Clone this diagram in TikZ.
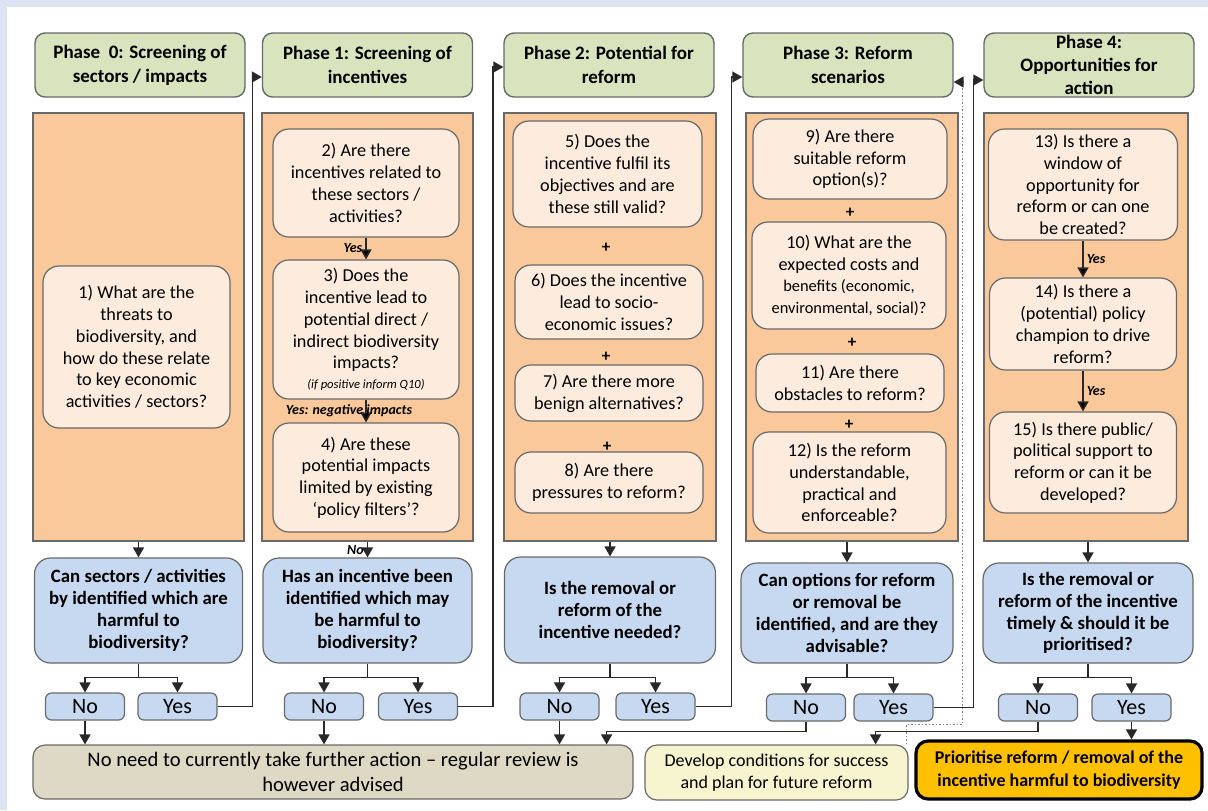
\documentclass[tikz,border=0pt]{standalone}
\usepackage{fontspec}
\setmainfont{Carlito}
\usetikzlibrary{arrows.meta}

\definecolor{pagebg}{RGB}{221,227,243}
\definecolor{boxline}{RGB}{105,105,105}
\definecolor{flowline}{RGB}{40,40,40}
\definecolor{phasegreen}{RGB}{215,228,189}
\definecolor{panelorange}{RGB}{249,201,156}
\definecolor{qcream}{RGB}{253,236,222}
\definecolor{qblue}{RGB}{198,217,240}
\definecolor{stopgrey}{RGB}{221,217,196}
\definecolor{devyellow}{RGB}{246,245,208}
\definecolor{prioyellow}{RGB}{255,192,0}

\begin{document}
\begin{tikzpicture}[x=0.5pt,y=-0.5pt,
    >={Triangle[length=5pt,width=5.5pt]},
    phase node/.style={draw=boxline,fill=phasegreen,rounded corners=5pt,line width=0.7pt,
      minimum width=105pt,minimum height=32pt,inner sep=1pt,align=center,
      font=\bfseries\fontsize{9.5}{12}\selectfont},
    panel node/.style={draw=boxline,fill=panelorange,line width=0.6pt,inner sep=0pt},
    question node/.style={draw=boxline,fill=qcream,rounded corners=8pt,line width=0.6pt,
      inner sep=1pt,align=center,font=\fontsize{9.1}{10.9}\selectfont},
    decision node/.style={draw=boxline,fill=qblue,rounded corners=8pt,line width=0.6pt,
      inner sep=1pt,align=center,font=\bfseries\fontsize{9.4}{10.9}\selectfont},
    answer node/.style={draw=boxline,fill=qblue,rounded corners=3pt,line width=0.6pt,
      minimum width=39.5pt,minimum height=13.5pt,inner sep=0pt,font=\fontsize{11}{13}\selectfont},
    end node/.style={draw=boxline,rounded corners=6pt,line width=0.6pt,inner sep=1pt,align=center},
    flow/.style={->,line width=0.75pt,draw=flowline},
    note/.style={font=\bfseries\itshape\fontsize{7}{8}\selectfont,inner sep=1.5pt},
    plus/.style={font=\bfseries\fontsize{8.5}{9}\selectfont,inner sep=0pt}
  ]
  \fill[pagebg] (0,0) rectangle (1208,810);
  \fill[white] (7,7) rectangle (1208,810);
  \useasboundingbox (0,0) rectangle (1208,810);

  % phase headers
  \node[phase node] (p0) at (140,65) {Phase~ 0: Screening of\\sectors / impacts};
  \node[phase node] (p1) at (367.5,65) {Phase 1: Screening of\\incentives};
  \node[phase node] (p2) at (609,65) {Phase 2: Potential for\\reform};
  \node[phase node] (p3) at (848,65) {Phase 3: Reform\\scenarios};
  \node[phase node,inner ysep=0pt,font=\bfseries\fontsize{9.5}{11.6}\selectfont] (p4) at (1089,65)
    {Phase 4:\\Opportunities for\\action};

  % columns
  \node[panel node,minimum width=105.5pt,minimum height=214pt] (c0) at (138.5,327) {};
  \node[panel node,minimum width=105.5pt,minimum height=214pt] (c1) at (367.5,327) {};
  \node[panel node,minimum width=106pt,minimum height=214pt] (c2) at (610,327) {};
  \node[panel node,minimum width=106pt,minimum height=214pt] (c3) at (852,327) {};
  \node[panel node,minimum width=102pt,minimum height=214pt] (c4) at (1086,327) {};

  % questions
  \node[question node,minimum width=93.5pt,minimum height=81pt] (q1) at (136.5,347)
    {1) What are the\\threats to\\biodiversity, and\\how do these relate\\to key economic\\activities / sectors?};
  \node[question node,minimum width=93pt,minimum height=54pt] (q2) at (366,183)
    {2) Are there\\incentives related to\\these sectors /\\activities?};
  \node[question node,minimum width=93pt,minimum height=69.5pt] (q3) at (366,329.5)
    {3) Does the\\incentive lead to\\potential direct /\\indirect biodiversity\\impacts?\\[-1pt]{\itshape\fontsize{6.3}{8}\selectfont (if positive inform Q10)}};
  \node[question node,minimum width=93pt,minimum height=54.5pt] (q4) at (366,477.5)
    {4) Are these\\potential impacts\\limited by existing\\‘policy filters’?};
  \node[question node,minimum width=94.5pt,minimum height=53pt] (q5) at (607.5,174)
    {5) Does the\\incentive fulfil its\\objectives and are\\these still valid?};
  \node[question node,minimum width=94pt,minimum height=37pt] (q6) at (609,302)
    {6) Does the incentive\\lead to socio-\\economic issues?};
  \node[question node,minimum width=94pt,minimum height=28pt] (q7) at (609,393)
    {7) Are there more\\benign alternatives?};
  \node[question node,minimum width=94pt,minimum height=30.5pt] (q8) at (609,482.5)
    {8) Are there\\pressures to reform?};
  \node[question node,minimum width=97pt,minimum height=40pt] (q9) at (850,159)
    {9) Are there\\suitable reform\\option(s)?};
  \node[question node,minimum width=97pt,minimum height=53.5pt] (q10) at (849,275.5)
    {10) What are the\\expected costs and\\{\fontsize{8.2}{10.9}\selectfont benefits (economic,}\\{\fontsize{8.2}{10.9}\selectfont environmental, social)?}};
  \node[question node,minimum width=94pt,minimum height=29pt] (q11) at (850,383)
    {11) Are there\\obstacles to reform?};
  \node[question node,minimum width=96.5pt,minimum height=50.5pt] (q12) at (849.5,482.5)
    {12) Is the reform\\understandable,\\practical and\\enforceable?};
  \node[question node,minimum width=94.5pt,minimum height=55.5pt] (q13) at (1083,184.5)
    {13) Is there a\\window of\\opportunity for\\reform or can one\\be created?};
  \node[question node,minimum width=93.5pt,minimum height=46pt] (q14) at (1083,324)
    {14) Is there a\\(potential) policy\\champion to drive\\reform?};
  \node[question node,minimum width=93.5pt,minimum height=50.5pt] (q15) at (1083,462.5)
    {15) Is there public/\\political support to\\reform or can it be\\developed?};

  % plus signs
  \node[plus] (s56) at (606,248) {+};
  \node[plus] (s67) at (606,357) {+};
  \node[plus] (s78) at (607,447) {+};
  \node[plus] (s910) at (850,213) {+};
  \node[plus] (s1011) at (852,343) {+};
  \node[plus] (s1112) at (849,425) {+};

  % decisions
  \node[decision node,minimum width=104pt,minimum height=52.5pt] (d0) at (138.5,610.5)
    {Can sectors / activities\\by identified which are\\harmful to\\biodiversity?};
  \node[decision node,minimum width=104.5pt,minimum height=52.5pt] (d1) at (367.5,610.5)
    {Has an incentive been\\identified which may\\be harmful to\\biodiversity?};
  \node[decision node,minimum width=105.5pt,minimum height=53pt] (d2) at (610,610)
    {Is the removal or\\reform of the\\incentive needed?};
  \node[decision node,minimum width=106pt,minimum height=50pt] (d3) at (847,613)
    {Can options for reform\\or removal be\\identified, and are they\\advisable?};
  \node[decision node,minimum width=105pt,minimum height=50pt] (d4) at (1088,613)
    {Is the removal or\\reform of the incentive\\timely \& should it be\\prioritised?};

  % answers
  \node[answer node] (n0) at (85,706.5) {No};
  \node[answer node] (y0) at (177.5,706.5) {Yes};
  \node[answer node] (n1) at (324,706.5) {No};
  \node[answer node] (y1) at (418,706.5) {Yes};
  \node[answer node] (n2) at (559.5,706.5) {No};
  \node[answer node] (y2) at (655.5,706.5) {Yes};
  \node[answer node] (n3) at (806,707.5) {No};
  \node[answer node] (y3) at (893.5,707.5) {Yes};
  \node[answer node] (n4) at (1038,707.5) {No};
  \node[answer node] (y4) at (1131.5,707.5) {Yes};

  % outcomes
  \node[end node,fill=stopgrey,minimum width=300pt,minimum height=27pt,
    font=\fontsize{10.3}{12.8}\selectfont] (grey) at (333,772)
    {No need to currently take further action – regular review is\\however advised};
  \node[end node,fill=devyellow,minimum width=131.5pt,minimum height=27.5pt,
    font=\fontsize{9}{11}\selectfont] (dev) at (776.5,772.5)
    {Develop conditions for success\\and plan for future reform};
  \node[end node,draw=black,line width=1.6pt,fill=prioyellow,minimum width=143pt,minimum height=29pt,
    font=\bfseries\fontsize{9}{11.3}\selectfont] (prio) at (1059,770)
    {Prioritise reform / removal of the\\incentive harmful to biodiversity};

  % within the columns
  \path[flow]
    (q2) edge node[note,left] {Yes} (q3)
    (q3) edge node[note,xshift=-8.5pt] {Yes: negative impacts} (q4)
    (q13) edge node[note,right] {Yes} (q14)
    (q14) edge node[note,right] {Yes} (q15);

  % columns to decisions
  \draw[flow] (c0.south -| d0.north) -- (d0.north);
  \draw[flow] (c1.south -| d1.north) -- node[note,left] {No} (d1.north);
  \draw[flow] (c2.south -| d2.north) -- (d2.north);
  \draw[flow] (c3.south -| d3.north) -- (d3.north);
  \draw[flow] (c4.south -| d4.north) -- (d4.north);

  % decisions to answers
  \draw[flow] (d0.south) -- ++(0,14) -| (n0.north);
  \draw[flow] (d0.south) -- ++(0,14) -| (y0.north);
  \draw[flow] (d1.south) -- ++(0,14) -| (n1.north);
  \draw[flow] (d1.south) -- ++(0,14) -| (y1.north);
  \draw[flow] (d2.south) -- ++(0,14) -| (n2.north);
  \draw[flow] (d2.south) -- ++(0,14) -| (y2.north);
  \draw[flow] (d3.south) -- ++(0,14) -| (n3.north);
  \draw[flow] (d3.south) -- ++(0,14) -| (y3.north);
  \draw[flow] (d4.south) -- ++(0,14) -| (n4.north);
  \draw[flow] (d4.south) -- ++(0,14) -| (y4.north);

  % answers to outcomes
  \draw[flow] (n0.south) -- (n0.south |- grey.north);
  \draw[flow] (n1.south) -- (n1.south |- grey.north);
  \draw[flow] (n2.south) -- (n2.south |- grey.north);
  \draw[flow] (n3.south) -- ++(0,10) -| ([xshift=-13.5pt]grey.north east);
  \draw[flow] (n4.south) -- ++(0,10) -| ([xshift=-16.5pt]dev.north east);
  \draw[flow] (y4.south) -- (y4.south |- prio.north);

  % yes leads to the next phase
  \draw[flow] (y0.east) -- ++(35,0) |- ([yshift=-6pt]p1.west);
  \draw[flow] (y1.east) -- ++(35,0) |- ([yshift=-1pt]p2.west);
  \draw[flow] (y2.east) -- ++(36,0) |- ([yshift=-6pt]p3.west);
  \draw[flow] (y3.east) -- ++(40,0) |- ([yshift=-7.5pt]p4.west);
  \draw[flow,densely dotted,draw=gray,-{Triangle[length=5pt,width=5.5pt,color=flowline]}]
    ([xshift=-1pt]dev.north east) -- ++(0,-20) -- ++(56,0) |- ([yshift=-8.5pt]p3.east);
\end{tikzpicture}
\end{document}
